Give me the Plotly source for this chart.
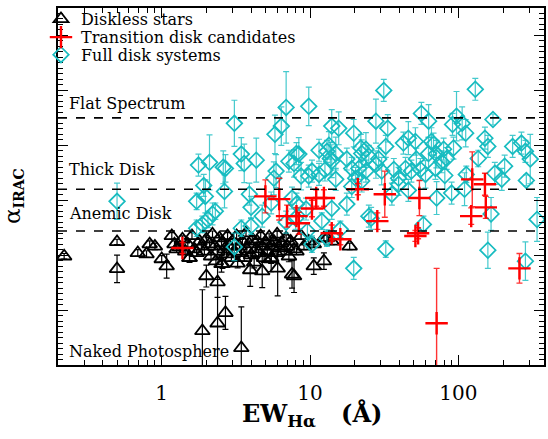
import plotly.graph_objects as go

# ---------------- data ----------------
# Diskless stars (black triangles)
diskless_ew = [0.22, 0.50, 0.50, 0.69, 0.79, 0.83, 0.90, 1.00, 1.08, 1.17,
               1.22, 1.26, 1.32, 1.38, 1.44, 1.50, 1.54, 1.60, 1.66, 1.72,
               1.80, 1.85, 1.94, 2.00, 2.10, 2.15, 2.20, 2.28, 2.32, 2.38,
               2.45, 2.53, 2.57, 2.65, 2.73, 2.78, 2.86, 2.95, 3.00, 3.09,
               3.20, 3.25, 3.34, 3.44, 3.50, 3.60, 3.70, 3.75, 3.90, 4.00,
               4.08, 4.20, 4.34, 4.40, 4.50, 4.65, 4.76, 4.90, 5.05, 5.15,
               5.30, 5.47, 5.55, 5.70, 5.90, 6.00, 6.20, 6.40, 6.70, 6.90,
               7.00, 7.20, 7.40, 7.80, 8.10, 8.70, 9.10, 9.80, 10.6, 12.4,
               13.0, 14.0, 18.5,
               1.88, 2.38, 2.69, 3.44, 2.00, 2.38, 2.53, 3.95, 6.05, 5.47,
               7.56, 7.80, 10.6, 12.4, 1.54, 4.76]
diskless_alpha = [-3.02, -2.76, -3.25, -2.96, -2.98, -2.80, -2.84, -3.07, -3.20, -2.65,
                  -2.80, -2.89, -2.85, -2.71, -2.93, -2.80, -3.05, -2.65, -2.89, -2.96,
                  -2.75, -2.84, -2.93, -2.71, -2.80, -3.02, -2.62, -2.84, -3.11, -2.93,
                  -2.69, -2.78, -3.16, -2.89, -2.98, -2.65, -2.84, -3.05, -2.75, -2.93,
                  -2.65, -3.15, -2.84, -2.96, -2.75, -3.05, -2.60, -2.89, -2.80, -3.00,
                  -2.71, -3.13, -2.89, -2.75, -2.96, -2.65, -2.84, -3.05, -2.78, -2.93,
                  -2.67, -3.07, -2.84, -2.75, -2.96, -2.62, -2.87, -2.78, -2.93, -2.69,
                  -2.84, -3.02, -2.75, -2.89, -2.93, -2.65, -2.84, -2.75, -2.80, -2.69,
                  -2.69, -2.75, -2.84,
                  -4.38, -4.24, -4.05, -4.69, -3.38, -3.49, -3.16, -3.27, -3.24, -3.05,
                  -3.35, -3.38, -3.20, -3.11, -3.05, -3.29]
diskless_err = [0.05, 0.05, 0.25, 0.06, 0.06, 0.06, 0.06, 0.06, 0.22, 0.06,
                0.06, 0.06, 0.06, 0.06, 0.06, 0.06, 0.06, 0.06, 0.06, 0.06,
                0.06, 0.06, 0.06, 0.06, 0.06, 0.06, 0.06, 0.06, 0.06, 0.06,
                0.06, 0.06, 0.08, 0.06, 0.06, 0.06, 0.06, 0.06, 0.06, 0.06,
                0.06, 0.08, 0.06, 0.06, 0.06, 0.06, 0.06, 0.06, 0.06, 0.06,
                0.06, 0.10, 0.06, 0.06, 0.06, 0.06, 0.06, 0.08, 0.06, 0.06,
                0.06, 0.08, 0.06, 0.06, 0.06, 0.06, 0.06, 0.06, 0.06, 0.06,
                0.06, 0.10, 0.06, 0.06, 0.06, 0.06, 0.06, 0.06, 0.06, 0.06,
                0.06, 0.06, 0.06,
                0.75, 0.80, 0.30, 0.75, 0.20, 0.28, 0.15, 0.30, 0.50, 0.25,
                0.25, 0.30, 0.15, 0.15, 0.08, 0.30]

# Transition disk candidates (red crosses)
transition_ew = [1.38, 5.0, 6.2, 7.0, 8.1, 8.4, 10.3, 11.0, 12.4, 14.0,
                 16.0, 21.0, 31.9, 28.4, 54.6, 51.3, 53.5, 124, 151, 153,
                 122, 71.3, 258]
transition_alpha = [-2.87, -1.93, -1.98, -2.29, -2.29, -2.42, -2.15, -1.96, -1.96, -2.60,
                    -2.71, -1.80, -1.89, -2.38, -1.96, -2.65, -2.60, -1.62, -1.71, -2.13,
                    -2.29, -4.24, -3.24]
transition_err = [0.10, 0.30, 0.38, 0.20, 0.15, 0.20, 0.15, 0.15, 0.15, 0.15,
                  0.10, 0.10, 0.42, 0.15, 0.32, 0.10, 0.10, 0.50, 0.20, 0.20,
                  0.15, 1.00, 0.27]

# Full disk systems (cyan diamonds)
fulldisk_ew = [0.50, 1.77, 2.10, 2.60, 1.92, 1.97, 1.72, 2.20, 2.65, 3.09,
               3.44, 3.60, 4.34, 6.9, 9.8, 5.8, 6.4, 2.69, 7.2, 8.1,
               8.4, 7.8, 11.5, 13.0, 13.7, 5.9, 5.7, 8.7, 10.3, 11.5,
               9.8, 3.9, 4.0, 4.76, 5.47, 7.56, 8.1, 9.4, 1.88, 1.72,
               3.09, 3.44, 4.0, 9.6, 10.3, 13.0, 19.7, 32.4, 25.8, 16.0,
               58.1, 158, 283, 339, 166, 31.4, 130, 27.8, 15.6, 14.0,
               19.7, 23.8, 22.3, 24.9, 32.4, 33.4, 42.6, 46.0, 51.3, 56.3,
               65.8, 62.9, 14.9, 14.0, 19.1, 21.3, 23.8, 29.0, 27.8, 30.4,
               36.7, 39.5, 44.0, 48.2, 52.1, 55.4, 60.0, 14.9, 20.3, 22.3,
               39.5, 14.0, 17.7, 24.9, 35.6, 71.3, 97.1, 91.3, 106, 112,
               171, 151, 158, 136, 232, 266, 283, 305, 287, 205,
               176, 196, 113, 110, 90.0, 68.0, 71.0, 79.5, 83.3, 92.7,
               70.0, 63.0, 19.1, 13.4, 12.6, 17.7, 22.0, 46.0, 77.0, 81.0,
               2.05, 2.30, 8.0, 12.0, 6.9]
fulldisk_alpha = [-2.02, -1.36, -1.31, -1.40, -1.73, -1.93, -2.02, -2.25, -1.84, -0.60,
                  -1.16, -1.33, -1.27, -0.31, -0.29, -0.80, -0.65, -1.42, -1.29, -1.15,
                  -1.16, -1.33, -1.09, -1.11, -1.24, -1.47, -1.60, -1.56, -1.47, -1.53,
                  -1.56, -1.89, -2.13, -2.29, -2.05, -1.96, -2.07, -2.16, -2.44, -2.51,
                  -2.85, -2.51, -2.47, -2.56, -2.80, -2.69, -3.24, -2.89, -2.33, -2.53,
                  -2.44, -2.91, -3.11, -2.35, -2.25, 0.00, 0.02, -0.56, -0.69, -0.65,
                  -0.78, -1.07, -1.15, -1.20, -1.02, -0.69, -0.96, -0.87, -0.93, -0.42,
                  -0.93, -1.15, -1.15, -1.29, -1.42, -1.42, -1.47, -1.25, -1.35, -1.47,
                  -1.44, -1.60, -1.42, -1.47, -1.25, -1.44, -1.53, -1.62, -1.60, -1.65,
                  -1.71, -2.15, -2.07, -2.29, -1.89, -1.96, -0.47, -0.62, -0.60, -0.78,
                  -0.53, -0.87, -1.02, -1.24, -1.02, -0.96, -1.11, -1.25, -1.64, -1.38,
                  -1.51, -1.62, -1.53, -1.80, -1.87, -0.98, -1.16, -1.07, -1.24, -1.05,
                  -1.42, -0.56, -1.75, -1.00, -1.45, -1.25, -1.05, -1.82, -1.30, -1.55,
                  -2.35, -2.20, -2.33, -2.38, -2.40]
fulldisk_err = [0.33, 0.20, 0.50, 0.30, 0.20, 0.30, 0.15, 0.20, 0.30, 0.42,
                0.30, 0.35, 0.40, 0.65, 0.35, 0.35, 0.35, 0.25, 0.20, 0.20,
                0.30, 0.25, 0.20, 0.20, 0.30, 0.30, 0.30, 0.25, 0.20, 0.20,
                0.20, 0.20, 0.20, 0.20, 0.20, 0.20, 0.20, 0.20, 0.15, 0.15,
                0.25, 0.15, 0.15, 0.15, 0.15, 0.15, 0.20, 0.15, 0.20, 0.15,
                0.15, 0.33, 0.35, 0.40, 0.30, 0.20, 0.20, 0.40, 0.30, 0.30,
                0.25, 0.30, 0.25, 0.20, 0.20, 0.25, 0.20, 0.30, 0.25, 0.20,
                0.25, 0.30, 0.30, 0.30, 0.20, 0.20, 0.20, 0.20, 0.25, 0.25,
                0.20, 0.20, 0.20, 0.20, 0.20, 0.20, 0.25, 0.20, 0.20, 0.20,
                0.20, 0.20, 0.20, 0.20, 0.20, 0.30, 0.45, 0.20, 0.30, 0.25,
                0.10, 0.20, 0.20, 0.15, 0.20, 0.20, 0.20, 0.45, 0.10, 0.20,
                0.20, 0.20, 0.15, 0.30, 0.20, 0.20, 0.25, 0.20, 0.20, 0.20,
                0.20, 0.30, 0.20, 0.25, 0.20, 0.20, 0.25, 0.20, 0.20, 0.25,
                0.15, 0.15, 0.20, 0.15, 0.20]

# Class boundaries (Lada et al. scheme) and region names
boundaries = [-0.5, -1.8, -2.56]
region_names = ["Flat Spectrum", "Thick Disk", "Anemic Disk", "Naked Photosphere"]
region_label_alpha = [-0.24, -1.44, -2.25, -4.75]

x_ticks = [1, 10, 100]
x_minor = [0.2, 0.3, 0.4, 0.5, 0.6, 0.7, 0.8, 0.9, 2, 3, 4, 5, 6, 7, 8, 9,
           20, 30, 40, 50, 60, 70, 80, 90, 200, 300]

# ---------------- figure ----------------
FONT = "DejaVu Serif"
CYAN = "#17bcc0"
fig = go.Figure()

fig.add_trace(go.Scatter(
    x=diskless_ew, y=diskless_alpha, mode="markers", name="Diskless stars",
    legend="legend",
    marker=dict(symbol="triangle-up-open", size=13, color="black",
                line=dict(width=1.8, color="black")),
    error_y=dict(type="data", array=diskless_err, color="black",
                 thickness=1.2, width=3),
))
fig.add_trace(go.Scatter(
    x=fulldisk_ew, y=fulldisk_alpha, mode="markers", name="Full disk systems",
    legend="legend3",
    marker=dict(symbol="diamond-open", size=12, color=CYAN,
                line=dict(width=1.7, color=CYAN)),
    error_y=dict(type="data", array=fulldisk_err, color="rgba(23,188,192,0.8)",
                 thickness=1.2, width=3),
))
fig.add_trace(go.Scatter(
    x=transition_ew, y=transition_alpha, mode="markers",
    name="Transition disk candidates", legend="legend2",
    marker=dict(symbol="cross-thin-open", size=16, color="red",
                line=dict(width=2.4, color="red")),
    error_y=dict(type="data", array=transition_err, color="rgba(255,0,0,0.8)",
                 thickness=1.4, width=3),
))

for b in boundaries:
    fig.add_shape(type="line", xref="paper", x0=0, x1=1, yref="y", y0=b, y1=b,
                  line=dict(color="black", width=1.6, dash="dash"))

for name, ya in zip(region_names, region_label_alpha):
    fig.add_annotation(text=name, xref="paper", x=0.018, xanchor="left",
                       yref="y", y=ya, yanchor="middle", showarrow=False,
                       font=dict(family=FONT, size=16, color="black"))

fig.add_annotation(
    text="α<sub><b><span style='font-size:14px'>IRAC</span></b></sub>",
    xref="paper", yref="paper", x=-0.092, y=0.474,
    xanchor="center", yanchor="middle", textangle=-90, showarrow=False,
    font=dict(family=FONT, size=23, color="black"))

fig.add_annotation(text="<b>EW<sub>Hα</sub>   (Å)</b>", xref="paper", yref="paper",
                   x=0.522, y=-0.139, xanchor="center", yanchor="middle",
                   showarrow=False,
                   font=dict(family=FONT, size=24, color="black"))

legend_common = dict(x=-0.035, xanchor="left", yanchor="middle",
                     bgcolor="rgba(0,0,0,0)",
                     font=dict(family=FONT, size=16, color="black"),
                     itemwidth=30)

fig.update_layout(
    width=548, height=439,
    margin=dict(l=58, r=2, t=6, b=74),
    plot_bgcolor="white", paper_bgcolor="white",
    showlegend=True,
    legend=dict(y=0.969, **legend_common),
    legend2=dict(y=0.918, **legend_common),
    legend3=dict(y=0.869, **legend_common),
    xaxis=dict(
        type="log", range=[-0.699, 2.577],
        tickvals=x_ticks, ticktext=[str(v) for v in x_ticks],
        ticks="inside", ticklen=10, tickwidth=1.3, tickcolor="black",
        minor=dict(tickvals=x_minor, ticks="inside", ticklen=5,
                   tickwidth=1.2, tickcolor="black"),
        showline=True, linecolor="black", linewidth=1.6, mirror="allticks",
        showgrid=False, zeroline=False,
        tickfont=dict(family=FONT, size=20, color="black"),
        ticklabelstandoff=9,
    ),
    yaxis=dict(
        range=[-5, 1.5], dtick=1, tick0=0,
        ticks="inside", ticklen=10, tickwidth=1.3, tickcolor="black",
        minor=dict(dtick=0.1, ticks="inside", ticklen=5, tickwidth=1.2,
                   tickcolor="black"),
        showticklabels=False,
        showline=True, linecolor="black", linewidth=1.6, mirror="allticks",
        showgrid=False, zeroline=False,
    ),
)

fig.write_html("out.html")
